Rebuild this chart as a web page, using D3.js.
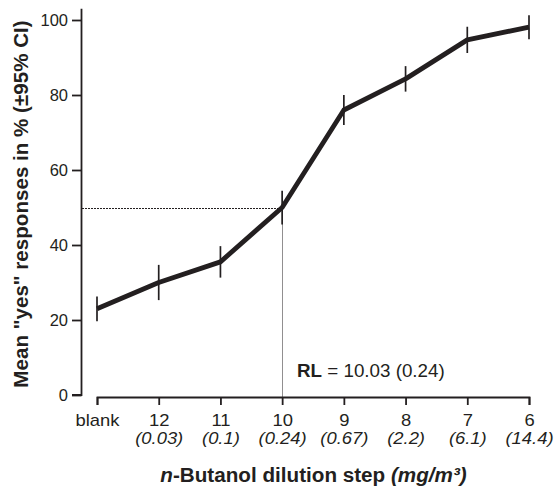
<!DOCTYPE html>
<html>
<head>
<meta charset="utf-8">
<script src="https://cdn.jsdelivr.net/npm/d3@7"></script>
<style>
  body { margin: 0; background: #fff; }
  text { font-family: "Liberation Sans", Arial, sans-serif; fill: #231f20; }
</style>
</head>
<body>
<div id="viz-container"></div>
<script>
// data
let steps = ["blank", "12", "11", "10", "9", "8", "7", "6"];
let concLabels = ["", "(0.03)", "(0.1)", "(0.24)", "(0.67)", "(2.2)", "(6.1)", "(14.4)"];
let meanYes = [23, 30, 35.5, 50, 76, 84.3, 94.7, 98.1];
let ciHalf = [3.3, 4.7, 4.2, 4.5, 4, 3.4, 3.5, 3.2];
let yTicks = [0, 20, 40, 60, 80, 100];
let rlStep = "10";
let rlLevel = 50;

let w = 554, h = 487;
let ink = "#231f20";

let viz = d3.select("#viz-container")
    .append("svg")
    .attr("width", w)
    .attr("height", h);

let xScale = d3.scalePoint().domain(steps).range([97, 529]);
let yScale = d3.scaleLinear().domain([0, 100]).range([395, 20]);

// y axis
let yAxisGroup = viz.append("g").attr("transform", "translate(81.5,0)");
yAxisGroup.call(d3.axisLeft(yScale).tickValues(yTicks).tickSize(9.5).tickPadding(4));
yAxisGroup.select(".domain").attr("d", "M0," + yScale(103) + "V" + yScale(0) + "H-9.5");
yAxisGroup.selectAll("line, path").attr("stroke", ink).attr("stroke-width", 1.8);
yAxisGroup.selectAll("text").style("font-size", "16.5px").attr("fill", ink);

// x axis
let xAxisGroup = viz.append("g").attr("transform", "translate(0,397)");
xAxisGroup.call(d3.axisBottom(xScale).tickSize(8).tickSizeOuter(8));
xAxisGroup.selectAll("line, path").attr("stroke", ink).attr("stroke-width", 1.8);
xAxisGroup.selectAll(".tick text")
    .attr("y", 29.5).attr("dy", null)
    .attr("transform", "scale(1.15,1)")
    .style("font-size", "16px")
    .attr("fill", ink);
xAxisGroup.selectAll(".tick").append("text")
    .attr("y", 47.5)
    .attr("text-anchor", "middle")
    .attr("transform", "scale(1.15,1)")
    .style("font-size", "16px")
    .style("font-style", "italic")
    .attr("fill", ink)
    .text((d, i) => concLabels[i]);

// reference lines for RL
let rlX = Math.round(xScale(rlStep)) + 0.5;
let rlY = Math.round(yScale(rlLevel)) + 0.5;
viz.append("line")
    .attr("x1", 82).attr("x2", rlX)
    .attr("y1", rlY).attr("y2", rlY)
    .attr("stroke", ink).attr("stroke-width", 1).attr("stroke-dasharray", "2,1");
viz.append("line")
    .attr("x1", rlX).attr("x2", rlX)
    .attr("y1", rlY).attr("y2", 397)
    .attr("stroke", ink).attr("stroke-width", 1).attr("stroke-dasharray", "1,1");

// mean line
let pts = steps.map((s, i) => ({s: s, v: meanYes[i], e: ciHalf[i]}));
let lineGenerator = d3.line()
    .x(d => xScale(d.s))
    .y(d => yScale(d.v));
viz.append("path")
    .datum(pts)
    .attr("fill", "none")
    .attr("stroke", ink)
    .attr("stroke-width", 4.8)
    .attr("stroke-linejoin", "round")
    .attr("d", lineGenerator);

// error bars
viz.selectAll(".err").data(pts).enter()
    .append("line")
    .attr("class", "err")
    .attr("x1", d => xScale(d.s)).attr("x2", d => xScale(d.s))
    .attr("y1", d => yScale(d.v + d.e))
    .attr("y2", d => yScale(d.v - d.e))
    .attr("stroke", ink)
    .attr("stroke-width", 1.7);

// RL annotation
let rl = viz.append("text")
    .attr("x", 297).attr("y", 377)
    .style("font-size", "18.8px");
rl.append("tspan").style("font-weight", "bold").text("RL");
rl.append("tspan").text(" = 10.03 (0.24)");

// axis titles
let xt = viz.append("text")
    .attr("transform", "translate(313.5,481.7) scale(1.06,1)")
    .attr("text-anchor", "middle")
    .style("font-size", "19.5px")
    .style("font-weight", "bold");
xt.append("tspan").style("font-style", "italic").text("n");
xt.append("tspan").text("-Butanol dilution step ");
xt.append("tspan").style("font-style", "italic").text("(mg/m³)");

viz.append("text")
    .attr("transform", "translate(28.3,204) rotate(-90)")
    .attr("text-anchor", "middle")
    .style("font-size", "20.6px")
    .style("font-weight", "bold")
    .text("Mean \"yes\" responses in % (±95% CI)");
</script>
</body>
</html>
